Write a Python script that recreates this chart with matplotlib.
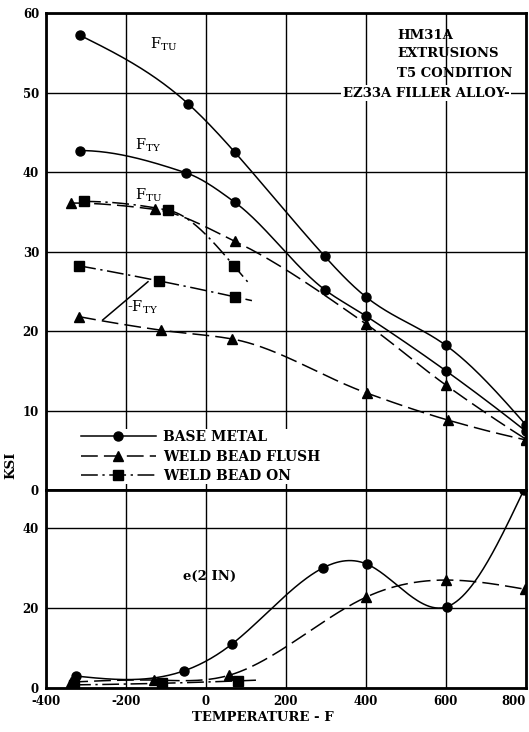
import numpy as np
import matplotlib
matplotlib.use("Agg")
import matplotlib.pyplot as plt
from matplotlib.lines import Line2D

plt.rcParams['font.family'] = ['DejaVu Serif', 'DejaVu Sans']
plt.rcParams['mathtext.fontset'] = 'dejavuserif'
plt.rcParams['axes.unicode_minus'] = False

# strength values, ksi
base_ftu_t = [-315, -45, 72, 297, 400, 600, 800]
base_ftu = [57.2, 48.6, 42.5, 29.4, 24.3, 18.2, 8.2]
base_fty_t = [-315, -50, 72, 297, 400, 600, 800]
base_fty = [42.7, 39.9, 36.2, 25.2, 21.9, 15.0, 7.4]
flush_ftu_t = [-337, -128, 72, 400, 600, 800]
flush_ftu = [36.1, 35.3, 31.3, 20.9, 13.2, 6.4]
flush_fty_t = [-317, -112, 65, 402, 605, 800]
flush_fty = [21.8, 20.1, 19.0, 12.2, 8.8, 6.3]
on_ftu_t = [-305, -95, 70]
on_ftu = [36.3, 35.2, 28.2]
on_fty_t = [-317, -117, 72]
on_fty = [28.2, 26.3, 24.3]

# elongation in 2 in, percent
base_e_t = [-325, -55, 65, 292, 402, 602, 795]
base_e = [3.0, 4.3, 11.0, 30.0, 31.0, 20.3, 49.5]
flush_e_t = [-337, -130, 58, 400, 600, 798]
flush_e = [1.5, 2.0, 3.2, 22.7, 27.0, 24.7]
on_e_t = [-330, -110, 80]
on_e = [0.8, 1.2, 1.8]

legend_labels = ['BASE METAL', 'WELD BEAD FLUSH', 'WELD BEAD ON']
temp_ticks = [-400, -200, 0, 200, 400, 600, 800]


def natural_slopes(x, y):
    # first derivatives of a natural cubic spline at the knots
    k = len(x)
    h = np.diff(x)
    A = np.zeros((k, k))
    r = np.zeros(k)
    A[0, 0] = A[-1, -1] = 1.0
    for i in range(1, k - 1):
        A[i, i - 1] = h[i - 1]
        A[i, i] = 2 * (h[i - 1] + h[i])
        A[i, i + 1] = h[i]
        r[i] = 6 * ((y[i + 1] - y[i]) / h[i] - (y[i] - y[i - 1]) / h[i - 1])
    m2 = np.linalg.solve(A, r)
    d = np.diff(y) / h
    s = np.zeros(k)
    s[:-1] = d - h * (2 * m2[:-1] + m2[1:]) / 6
    s[-1] = d[-1] + h[-1] * (m2[-2] + 2 * m2[-1]) / 6
    return s


def pchip_end(h0, h1, d0, d1):
    m = ((2 * h0 + h1) * d0 - h0 * d1) / (h0 + h1)
    if np.sign(m) != np.sign(d0):
        return 0.0
    if np.sign(d0) != np.sign(d1) and abs(m) > 3 * abs(d0):
        return 3 * d0
    return m


def pchip_slopes(x, y):
    k = len(x)
    h = np.diff(x)
    d = np.diff(y) / h
    s = np.zeros(k)
    for i in range(1, k - 1):
        if d[i - 1] * d[i] > 0:
            w1 = 2 * h[i] + h[i - 1]
            w2 = h[i] + 2 * h[i - 1]
            s[i] = (w1 + w2) / (w1 / d[i - 1] + w2 / d[i])
    if k > 2:
        s[0] = pchip_end(h[0], h[1], d[0], d[1])
        s[-1] = pchip_end(h[-1], h[-2], d[-1], d[-2])
    else:
        s[:] = d[0]
    return s


def smooth(x, y, method='pchip', x_end=None, n=300):
    # cubic Hermite curve through the points, straight past the last one
    x = np.asarray(x, float)
    y = np.asarray(y, float)
    s = pchip_slopes(x, y) if method == 'pchip' else natural_slopes(x, y)
    xs = np.linspace(x[0], x[-1], n)
    i = np.clip(np.searchsorted(x, xs) - 1, 0, len(x) - 2)
    h = x[i + 1] - x[i]
    t = (xs - x[i]) / h
    ys = ((2 * t ** 3 - 3 * t ** 2 + 1) * y[i] + (t ** 3 - 2 * t ** 2 + t) * h * s[i]
          + (-2 * t ** 3 + 3 * t ** 2) * y[i + 1] + (t ** 3 - t ** 2) * h * s[i + 1])
    if x_end is not None:
        xs = np.append(xs, x_end)
        ys = np.append(ys, y[-1] + s[-1] * (x_end - x[-1]))
    return xs, ys


solid = dict(color='black', lw=1.1, linestyle='-')
dashed = dict(color='black', lw=1.1, linestyle=(0, (11, 4)))
dashdot = dict(color='black', lw=1.1, linestyle=(0, (11, 3, 1.5, 3)))


def curve(ax, t, v, style, marker, method='pchip', x_end=None):
    xs, ys = smooth(t, v, method, x_end)
    ax.plot(xs, ys, **style)
    ax.plot(t, v, linestyle='none', marker=marker, ms=6.5, color='black')


fig = plt.figure(figsize=(5.29, 7.32), dpi=100)
ax1 = fig.add_axes([0.087, 0.3306, 0.907, 0.6516])
ax2 = fig.add_axes([0.087, 0.060, 0.907, 0.2706])

for ax in (ax1, ax2):
    ax.set_xlim(-400, 800)
    ax.set_xticks(temp_ticks)
    ax.grid(True, color='black', lw=1.0)
    ax.set_axisbelow(True)
    ax.tick_params(length=0, labelsize=8.5, pad=5)
    for sp in ax.spines.values():
        sp.set_linewidth(2)
    for lab in ax.get_xticklabels() + ax.get_yticklabels():
        lab.set_fontweight('bold')

ax1.set_ylim(0, 60)
ax1.set_yticks(range(0, 61, 10))
ax1.tick_params(labelbottom=False)
ax2.set_ylim(0, 49.5)
ax2.set_yticks([0, 20, 40])
ax2.get_xticklabels()[-1].set_ha('right')

# strength curves
curve(ax1, base_ftu_t, base_ftu, solid, 'o', method='natural')
curve(ax1, base_fty_t, base_fty, solid, 'o')
curve(ax1, flush_ftu_t, flush_ftu, dashed, '^')
curve(ax1, flush_fty_t, flush_fty, dashed, '^')
curve(ax1, on_ftu_t, on_ftu, dashdot, 's', x_end=110)
curve(ax1, on_fty_t, on_fty, dashdot, 's', x_end=115)

# elongation curves
curve(ax2, base_e_t, base_e, solid, 'o', method='natural')
curve(ax2, flush_e_t, flush_e, dashed, '^', method='natural')
curve(ax2, on_e_t, on_e, dashdot, 's', x_end=125)

txt = dict(fontsize=9.5, fontweight='bold', color='black')
sub = dict(fontsize=10.5, color='black')
ax1.text(-140, 56.1, r'F$_{\rm TU}$', va='center', **sub)
ax1.text(-177, 43.4, r'F$_{\rm TY}$', va='center', **sub)
ax1.text(-177, 37.1, r'F$_{\rm TU}$', va='center', **sub)
ax1.text(-197, 23.0, r'-F$_{\rm TY}$', va='center', **sub)
ax1.plot([-258, -145], [21.4, 26.2], color='black', lw=1.1)

for y, s in zip([57.2, 54.9, 52.4], ['HM31A', 'EXTRUSIONS', 'T5 CONDITION']):
    ax1.text(478, y, s, va='center', **txt)
ax1.text(342, 49.9, 'EZ33A FILLER ALLOY-', va='center',
         bbox=dict(facecolor='white', edgecolor='none', pad=1), **txt)

handles = [Line2D([], [], marker='o', ms=6.5, **solid),
           Line2D([], [], marker='^', ms=6.5, **dashed),
           Line2D([], [], marker='s', ms=6.5, **dashdot)]
leg = ax1.legend(handles, legend_labels, loc='upper left', bbox_to_anchor=(0.07, 0.128),
                 frameon=True, facecolor='white', edgecolor='none', framealpha=1,
                 fancybox=False, handlelength=5.4, handletextpad=0.5,
                 labelspacing=0.38, borderpad=0.1, borderaxespad=0,
                 prop=dict(family='DejaVu Serif', size=10, weight='bold'))

ax2.text(10, 28, 'e(2 IN)', ha='center', va='center', **txt)

fig.text(0.02, 0.365, 'KSI', rotation=90, ha='center', va='center', **txt)
fig.text(0.497, 0.02, 'TEMPERATURE - F', ha='center', va='center', **txt)

fig.savefig('out.png', dpi=100)
